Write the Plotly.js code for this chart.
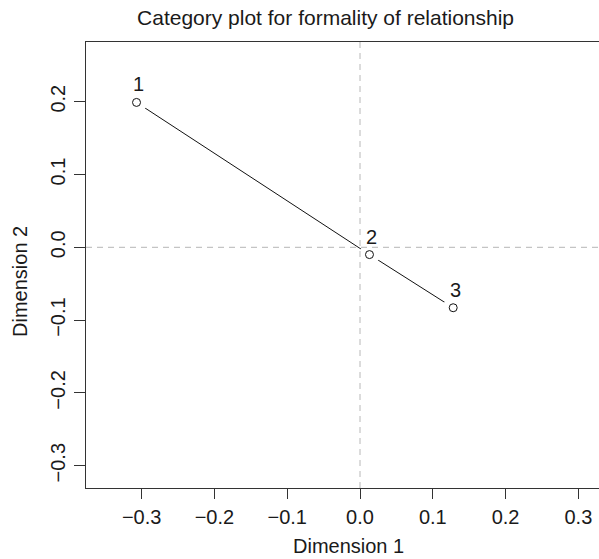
<!DOCTYPE html>
<html>
<head>
<meta charset="utf-8">
<script src="https://cdn.plot.ly/plotly-3.0.1.min.js"></script>
<style>
html, body { margin: 0; padding: 0; background: #fff; overflow: hidden; }
#chart { width: 599px; height: 559px; }
</style>
</head>
<body>
<div id="chart"></div>
<script>
// Category points (dimension 1, dimension 2)
const categories = ["1", "2", "3"];
const dim1 = [-0.307, 0.013, 0.128];
const dim2 = [0.199, -0.010, -0.083];

// Axis ticks
const xTickVals = [-0.3, -0.2, -0.1, 0.0, 0.1, 0.2, 0.3];
const xTickText = ["\u22120.3", "\u22120.2", "\u22120.1", "0.0", "0.1", "0.2", "0.3"];
const yTickVals = [-0.3, -0.2, -0.1, 0.0, 0.1, 0.2];
const yTickText = ["\u22120.3", "\u22120.2", "\u22120.1", "0.0", "0.1", "0.2"];

const chartTitle = "Category plot for formality of relationship";
const xTitle = "Dimension 1";
const yTitle = "Dimension 2";

const FONT = "'Liberation Sans', Arial, Helvetica, sans-serif";
const TXT = "#1a1a1a";

const traces = [
  { // connecting line
    x: dim1, y: dim2, mode: "lines", type: "scatter",
    line: { color: "#111", width: 1 }, hoverinfo: "skip", showlegend: false
  },
  { // white halo to leave the gap around each point (R type="b")
    x: dim1, y: dim2, mode: "markers", type: "scatter",
    marker: { symbol: "circle", size: 21, color: "#ffffff", line: { width: 0 } },
    hoverinfo: "skip", showlegend: false
  },
  { // open circle points
    x: dim1, y: dim2, mode: "markers", type: "scatter",
    marker: { symbol: "circle-open", size: 8, color: "#111", line: { width: 1, color: "#111" } },
    text: categories, showlegend: false
  }
];

const annotations = categories.map((c, i) => ({
  x: dim1[i], y: dim2[i], xref: "x", yref: "y", text: c, showarrow: false,
  xshift: 2, yshift: 18, font: { family: FONT, size: 20, color: TXT }
}));
// axis titles, placed where the reference draws them
annotations.push({
  text: xTitle, xref: "paper", yref: "paper", x: 0.512, y: 0,
  xanchor: "center", yanchor: "middle", yshift: -58, showarrow: false,
  font: { family: FONT, size: 20, color: TXT }
});
annotations.push({
  text: yTitle, xref: "paper", yref: "paper", x: 0, y: 0.462,
  xanchor: "center", yanchor: "middle", xshift: -66, textangle: -90, showarrow: false,
  font: { family: FONT, size: 20, color: TXT }
});

const layout = {
  width: 599, height: 559,
  margin: { l: 86, r: 0, t: 42, b: 71, pad: 0 },
  paper_bgcolor: "#fff", plot_bgcolor: "#fff",
  font: { family: FONT, size: 20, color: TXT },
  title: {
    text: chartTitle, font: { family: FONT, size: 21, color: TXT },
    x: 0.5435, xref: "container", xanchor: "center",
    y: 1, yref: "container", yanchor: "top", pad: { t: 10 }
  },
  xaxis: {
    range: [-0.3764, 0.3283], tickmode: "array", tickvals: xTickVals, ticktext: xTickText,
    showgrid: false, zeroline: false, showline: true, mirror: true,
    linecolor: "#333", linewidth: 1, ticks: "outside", ticklen: 10, tickwidth: 1, tickcolor: "#333",
    tickfont: { family: FONT, size: 20, color: TXT }, ticklabelstandoff: 1
  },
  yaxis: {
    range: [-0.3306, 0.282], tickmode: "array", tickvals: yTickVals, ticktext: yTickText,
    showgrid: false, zeroline: false, showline: true, mirror: false,
    linecolor: "#333", linewidth: 1, ticks: "outside", ticklen: 11, tickwidth: 1, tickcolor: "#333",
    tickangle: -90, tickfont: { family: FONT, size: 20, color: TXT }, ticklabelstandoff: 1
  },
  shapes: [
    { type: "line", xref: "x", yref: "paper", x0: 0, x1: 0, y0: 0, y1: 1, layer: "above",
      line: { color: "#c4c4c4", width: 1.2, dash: "6px,5px" } },
    { type: "line", xref: "paper", yref: "y", x0: 0, x1: 1, y0: 0, y1: 0, layer: "above",
      line: { color: "#c4c4c4", width: 1.2, dash: "6px,5px" } }
  ],
  annotations: annotations,
  showlegend: false
};

Plotly.newPlot("chart", traces, layout, { staticPlot: true, displayModeBar: false });
</script>
</body>
</html>
